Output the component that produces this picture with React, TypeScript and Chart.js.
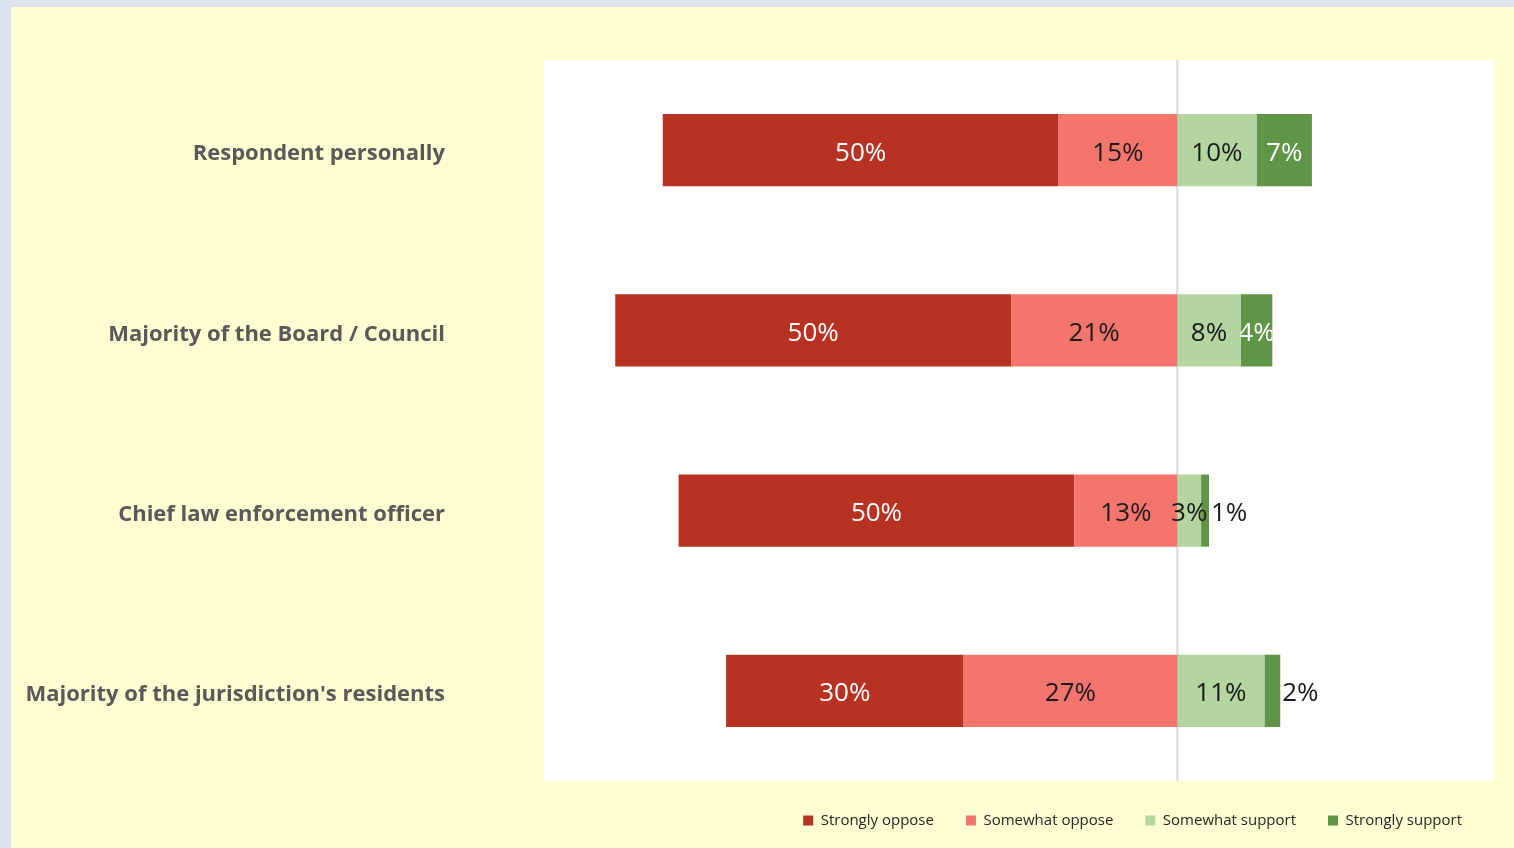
import React, { useEffect, useRef } from "react";
import { Chart, registerables } from "chart.js";

Chart.register(...registerables);

const categories = [
  "Respondent personally",
  "Majority of the Board / Council",
  "Chief law enforcement officer",
  "Majority of the jurisdiction's residents",
];
const stronglyOppose = [50, 50, 50, 30];
const somewhatOppose = [15, 21, 13, 27];
const somewhatSupport = [10, 8, 3, 11];
const stronglySupport = [7, 4, 1, 2];
const seriesNames = ["Strongly oppose", "Somewhat oppose", "Somewhat support", "Strongly support"];
const seriesColors = ["#B73222", "#F4756D", "#B3D59F", "#5E9546"];
const xMin = -80;
const xMax = 40;

const FONT = "'Open Sans', Lato, sans-serif";

const bgPlugin = {
  id: "bgPlugin",
  beforeDraw(chart: any) {
    const { ctx, width, height, chartArea } = chart;
    ctx.save();
    ctx.fillStyle = "#DCE3EF";
    ctx.fillRect(0, 0, width, height);
    ctx.fillStyle = "#FFFDD2";
    ctx.fillRect(11, 7, width - 11, height - 7);
    ctx.fillStyle = "#FFFFFF";
    ctx.fillRect(chartArea.left, chartArea.top, chartArea.right - chartArea.left, chartArea.bottom - chartArea.top);
    ctx.restore();
  },
  beforeDatasetsDraw(chart: any) {
    const { ctx, chartArea } = chart;
    const x0 = chart.scales.x.getPixelForValue(0);
    ctx.save();
    ctx.strokeStyle = "#D9D9D9";
    ctx.lineWidth = 2;
    ctx.beginPath();
    ctx.moveTo(x0, chartArea.top);
    ctx.lineTo(x0, chartArea.bottom);
    ctx.stroke();
    ctx.restore();
  },
};

const labelPlugin = {
  id: "labelPlugin",
  afterDatasetsDraw(chart: any) {
    const { ctx } = chart;
    ctx.save();
    ctx.font = `26px ${FONT}`;
    ctx.textBaseline = "middle";
    chart.data.datasets.forEach((ds: any, i: number) => {
      const meta = chart.getDatasetMeta(i);
      const name = ds.label;
      meta.data.forEach((bar: any, j: number) => {
        const p = bar.getProps(["x", "y", "base", "height"], true);
        const left = Math.min(p.x, p.base);
        const right = Math.max(p.x, p.base);
        const val = Math.abs(ds.data[j]);
        const text = `${val}%`;
        const cx = (left + right) / 2;
        if (name === "Strongly support") {
          if (val <= 2) {
            ctx.fillStyle = "#1A1A1A";
            ctx.textAlign = "left";
            ctx.fillText(text, right + 2, p.y + 3);
          } else {
            ctx.save();
            ctx.beginPath();
            ctx.rect(left, p.y - p.height / 2, right - left, p.height);
            ctx.clip();
            ctx.fillStyle = "#FFFFFF";
            ctx.textAlign = "center";
            ctx.fillText(text, cx, p.y + 3);
            ctx.restore();
          }
        } else {
          ctx.fillStyle = name === "Strongly oppose" ? "#FFFFFF" : "#1A1A1A";
          ctx.textAlign = "center";
          ctx.fillText(text, cx, p.y + 3);
        }
      });
    });
    ctx.restore();
  },
};

export default function App() {
  const ref = useRef<HTMLCanvasElement | null>(null);
  useEffect(() => {
    if (!ref.current) return;
    const chart = new Chart(ref.current, {
      type: "bar",
      data: {
        labels: categories,
        datasets: [
          {
            label: seriesNames[1],
            data: somewhatOppose.map((v) => -v),
            backgroundColor: seriesColors[1],
          },
          {
            label: seriesNames[0],
            data: stronglyOppose.map((v) => -v),
            backgroundColor: seriesColors[0],
          },
          {
            label: seriesNames[2],
            data: somewhatSupport,
            backgroundColor: seriesColors[2],
          },
          {
            label: seriesNames[3],
            data: stronglySupport,
            backgroundColor: seriesColors[3],
          },
        ],
      },
      options: {
        indexAxis: "y",
        responsive: false,
        animation: false,
        layout: { padding: { left: 20, right: 20, top: 60, bottom: 10 } },
        datasets: {
          bar: { barPercentage: 0.4, categoryPercentage: 1 },
        },
        scales: {
          x: { stacked: true, min: xMin, max: xMax, display: false },
          y: {
            stacked: true,
            grid: { display: false, drawTicks: false },
            border: { display: false },
            ticks: {
              padding: 99,
              labelOffset: 4,
              color: "#595959",
              font: { family: FONT, size: 22, weight: "bold" },
            },
            afterFit: (s: any) => {
              s.width = 524;
              s.paddingTop = 0;
              s.paddingBottom = 0;
              s.paddingLeft = 0;
              s.paddingRight = 0;
            },
          },
        },
        plugins: {
          tooltip: { enabled: false },
          legend: {
            position: "bottom",
            align: "end",
            labels: {
              boxWidth: 10,
              boxHeight: 10,
              padding: 32,
              color: "#262626",
              font: { family: FONT, size: 15 },
              sort: (a: any, b: any) => seriesNames.indexOf(a.text) - seriesNames.indexOf(b.text),
            },
          },
        },
      },
      plugins: [bgPlugin, labelPlugin],
    } as any);
    return () => chart.destroy();
  }, []);
  return (
    <div style={{ position: "fixed", left: 0, top: 0, width: 1514, height: 848 }}>
      <canvas ref={ref} width={1514} height={848} />
    </div>
  );
}
